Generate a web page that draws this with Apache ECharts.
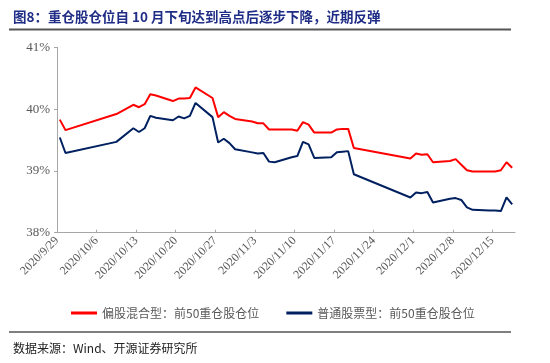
<!DOCTYPE html>
<html>
<head>
<meta charset="utf-8">
<script src="https://cdn.jsdelivr.net/npm/echarts@6/dist/echarts.min.js"></script>
<style>html,body{margin:0;padding:0;background:#fff;}#c{width:550px;height:363px;}</style>
</head>
<body>
<div id="c"></div>
<script>
const startDate = '2020-09-29';
const tickLabels = ['2020/9/29','2020/10/6','2020/10/13','2020/10/20','2020/10/27','2020/11/3','2020/11/10','2020/11/17','2020/11/24','2020/12/1','2020/12/8','2020/12/15'];
const dates = ['2020-09-29','2020-09-30','2020-10-09','2020-10-12','2020-10-13','2020-10-14','2020-10-15','2020-10-16','2020-10-19','2020-10-20','2020-10-21','2020-10-22','2020-10-23','2020-10-26','2020-10-27','2020-10-28','2020-10-29','2020-10-30','2020-11-02','2020-11-03','2020-11-04','2020-11-05','2020-11-06','2020-11-09','2020-11-10','2020-11-11','2020-11-12','2020-11-13','2020-11-16','2020-11-17','2020-11-18','2020-11-19','2020-11-20','2020-11-30','2020-12-01','2020-12-02','2020-12-03','2020-12-04','2020-12-07','2020-12-08','2020-12-09','2020-12-10','2020-12-11','2020-12-14','2020-12-15','2020-12-16','2020-12-17','2020-12-18'];
const mixedValues = [39.83,39.66,39.92,40.07,40.03,40.08,40.24,40.22,40.13,40.17,40.17,40.18,40.35,40.18,39.87,39.95,39.89,39.84,39.80,39.77,39.77,39.67,39.67,39.67,39.65,39.79,39.75,39.62,39.62,39.67,39.68,39.68,39.37,39.20,39.28,39.26,39.27,39.14,39.16,39.19,39.10,39.01,38.99,38.99,38.99,39.01,39.14,39.05];
const stockValues = [39.54,39.29,39.47,39.69,39.63,39.69,39.89,39.86,39.82,39.88,39.85,39.89,40.10,39.87,39.46,39.52,39.45,39.35,39.30,39.28,39.29,39.15,39.14,39.22,39.24,39.47,39.43,39.21,39.22,39.30,39.31,39.32,38.945,38.57,38.65,38.64,38.66,38.49,38.55,38.56,38.53,38.41,38.37,38.36,38.36,38.35,38.57,38.46];
const yTicks = [38,39,40,41];
const seriesNames = ['偏股混合型：前50重仓股仓位','普通股票型：前50重仓股仓位'];

const DAY = 86400000;
const t0 = Date.parse(startDate + 'T00:00:00Z');
const dayIdx = d => (Date.parse(d + 'T00:00:00Z') - t0) / DAY + 0.5;
const toPts = vals => dates.map((d, i) => [dayIdx(d), vals[i]]);
const tickVals = tickLabels.map((_, i) => i * 7);

const chart = echarts.init(document.getElementById('c'), null, {renderer: 'canvas'});
const serif = '"Liberation Serif","Times New Roman",serif';
const cjk = '"Noto Sans CJK SC",sans-serif';
chart.setOption({
  animation: false,
  backgroundColor: '#fff',
  title: [
    {text: '图8：重仓股仓位自 10 月下旬达到高点后逐步下降，近期反弹', left: 8, top: 5,
     textStyle: {fontFamily: cjk, fontSize: 13.5, fontWeight: 'bold', color: '#1f2d86'}},
    {text: '数据来源：Wind、开源证券研究所', left: 8, top: 337,
     textStyle: {fontFamily: cjk, fontSize: 12, fontWeight: 'normal', color: '#222'}}
  ],
  graphic: [
    {type: 'line', shape: {x1: 9, y1: 29.5, x2: 511, y2: 29.5}, style: {stroke: '#555', lineWidth: 2}},
    {type: 'line', shape: {x1: 9, y1: 332, x2: 511, y2: 332}, style: {stroke: '#555', lineWidth: 1.5}}
  ],
  grid: {left: 57, right: 35, top: 47.3, bottom: 130.3, containLabel: false},
  legend: {
    left: 66, top: 302, itemWidth: 26, itemHeight: 3, itemGap: 27, icon: 'rect',
    textStyle: {fontFamily: cjk, fontSize: 12, color: '#595959'},
    data: seriesNames
  },
  xAxis: {
    type: 'value', min: 0, max: 81, interval: 7,
    axisLine: {lineStyle: {color: '#a6a6a6', width: 1}},
    axisTick: {show: true, inside: true, length: 3, customValues: tickVals, lineStyle: {color: '#a6a6a6'}},
    axisLabel: {customValues: tickVals, rotate: 45, fontFamily: serif, fontSize: 12, color: '#595959', margin: 6,
      formatter: v => tickLabels[Math.round(v / 7)] || ''},
    splitLine: {show: false}
  },
  yAxis: {
    type: 'value', min: yTicks[0], max: yTicks[yTicks.length - 1], interval: 1,
    axisLine: {show: true, lineStyle: {color: '#a6a6a6', width: 1}},
    axisTick: {show: true, length: 3, lineStyle: {color: '#a6a6a6'}},
    axisLabel: {fontFamily: serif, fontSize: 13, color: '#595959', margin: 7, formatter: v => v + '%'},
    splitLine: {show: false}
  },
  series: [
    {name: seriesNames[0], type: 'line', data: toPts(mixedValues), showSymbol: false, symbol: 'none',
     lineStyle: {color: '#ff0000', width: 2}, itemStyle: {color: '#ff0000'}},
    {name: seriesNames[1], type: 'line', data: toPts(stockValues), showSymbol: false, symbol: 'none',
     lineStyle: {color: '#002060', width: 2}, itemStyle: {color: '#002060'}}
  ]
});
</script>
</body>
</html>
